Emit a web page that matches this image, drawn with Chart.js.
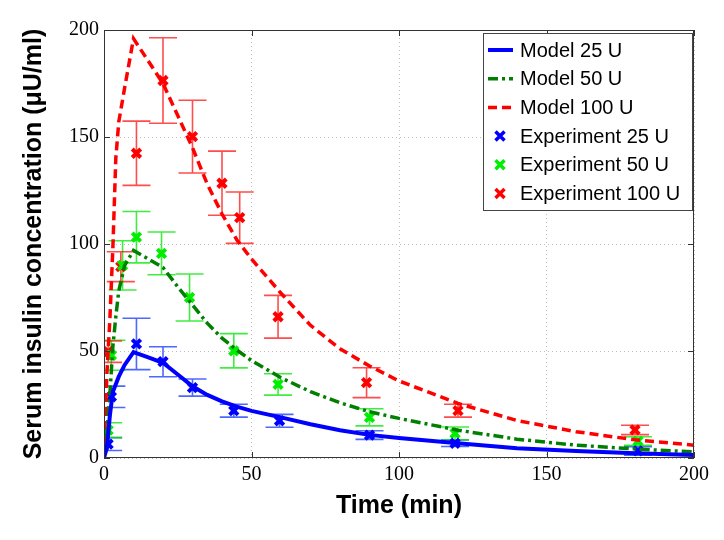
<!DOCTYPE html>
<html>
<head>
<meta charset="utf-8">
<script src="https://cdn.jsdelivr.net/npm/chart.js@4.4.1/dist/chart.umd.min.js"></script>
<style>
  html, body { margin: 0; padding: 0; background: #fff; }
  #wrap { width: 724px; height: 540px; }
</style>
</head>
<body>
<div id="wrap"><canvas id="insulinChart" width="724" height="540"></canvas></div>
<script>
// Model curves (min -> uU/ml)
const modelTime = [0, 1, 2, 3, 4, 5, 7, 10, 15, 20, 25, 30, 35, 40, 45, 50, 60, 70, 80, 90, 100, 120, 140, 160, 180, 200];
const model25  = [0, 5, 20, 31, 34.5, 38, 43.5, 49.5, 47, 44.5, 39, 33.5, 29.5, 26.5, 24, 22, 19, 15.8, 13, 10.8, 9.3, 6.9, 4.6, 3.3, 2.2, 1.4];
const model50  = [0, 12, 30, 52, 66, 78, 90, 97, 93, 89, 80, 71.5, 63, 56, 50.5, 45.5, 37.5, 31, 25.8, 21.6, 18.5, 13, 8.8, 6, 4.2, 2.9];
const model100 = [0, 40, 65, 98, 140, 157, 173, 196, 185.5, 175, 160, 145, 128, 114, 102, 93, 77, 62, 51, 43, 36, 25.5, 17.5, 12.3, 8.5, 6];

// Experimental data with error bars
const expTime25 = [1.4, 2.5, 11, 20, 30, 44, 59.5, 90, 119, 181];
const exp25     = [6.5, 28.6, 53.3, 45, 32.9, 22.1, 17.4, 10.7, 6.9, 3.3];
const err25     = [3, 5, 12, 7, 4, 3, 3, 2, 1.5, 2];

const expTime50 = [1.4, 2.5, 6.3, 11, 19.5, 29, 44, 59, 90, 119, 181];
const exp50     = [13, 48, 90, 103.2, 95.6, 75, 50.1, 34.4, 19, 11.5, 7.9];
const err50     = [3.5, 7, 11.5, 12, 10, 11, 8, 5, 4, 3, 2];

const expTime100 = [1.4, 5.7, 11, 20, 30, 40, 46, 59, 89, 120, 180];
const exp100     = [49.7, 89.4, 142.4, 176.4, 150.2, 128.4, 112.3, 66, 35.2, 22.1, 13.1];
const err100     = [5, 7, 15, 20, 17, 15, 12, 10, 7, 3, 2.2];

const xTicks = [0, 50, 100, 150, 200];
const yTicks = [0, 50, 100, 150, 200];

const toPoints = (xs, ys) => xs.map((x, i) => ({ x: x, y: ys[i] }));

const serif = "'Liberation Serif', 'Times New Roman', serif";
const sans = "'Liberation Sans', Arial, Helvetica, sans-serif";

// error bars under the markers
const errorBars = {
    id: 'errorBars',
    beforeDatasetsDraw(chart) {
        const { ctx, chartArea: a, scales: { x, y } } = chart;
        ctx.save();
        ctx.beginPath();
        ctx.rect(a.left, a.top, a.width, a.height);
        ctx.clip();
        chart.data.datasets.forEach(ds => {
            if (!ds.errors) return;
            ctx.strokeStyle = ds.errorColor;
            ctx.lineWidth = 1.6;
            ds.data.forEach((p, j) => {
                const e = ds.errors[j];
                const px = x.getPixelForValue(p.x);
                const top = y.getPixelForValue(p.y + e);
                const bot = y.getPixelForValue(p.y - e);
                const cap = 14;
                ctx.beginPath();
                ctx.moveTo(px, top); ctx.lineTo(px, bot);
                ctx.moveTo(px - cap, top); ctx.lineTo(px + cap, top);
                ctx.moveTo(px - cap, bot); ctx.lineTo(px + cap, bot);
                ctx.stroke();
            });
        });
        ctx.restore();
    }
};

// box around the axes and inward ticks (matlab style)
const axesFrame = {
    id: 'axesFrame',
    afterDatasetsDraw(chart) {
        const { ctx, chartArea: a, scales: { x, y } } = chart;
        ctx.save();
        ctx.strokeStyle = '#333';
        ctx.lineWidth = 1;
        ctx.strokeRect(a.left + 0.5, a.top + 0.5, a.width - 1, a.height - 1);
        ctx.beginPath();
        x.ticks.forEach(t => {
            const px = Math.round(x.getPixelForValue(t.value)) + 0.5;
            ctx.moveTo(px, a.bottom); ctx.lineTo(px, a.bottom - 6);
            ctx.moveTo(px, a.top); ctx.lineTo(px, a.top + 6);
        });
        y.ticks.forEach(t => {
            const py = Math.round(y.getPixelForValue(t.value)) + 0.5;
            ctx.moveTo(a.left, py); ctx.lineTo(a.left + 6, py);
            ctx.moveTo(a.right, py); ctx.lineTo(a.right - 6, py);
        });
        ctx.stroke();
        ctx.restore();
    }
};

// legend box in the top right corner
const boxLegend = {
    id: 'boxLegend',
    afterDraw(chart) {
        const { ctx, chartArea: a } = chart;
        const w = 209, h = 177;
        const left = a.right - w - 2, top = a.top + 3;
        ctx.save();
        ctx.fillStyle = '#fff';
        ctx.fillRect(left, top, w, h);
        ctx.strokeStyle = '#444';
        ctx.lineWidth = 1;
        ctx.strokeRect(left + 0.5, top + 0.5, w, h);
        ctx.font = '20px ' + sans;
        ctx.textBaseline = 'middle';
        chart.data.datasets.forEach((ds, i) => {
            const cy = top + 17 + i * 28.7;
            if (ds.showLine) {
                ctx.strokeStyle = ds.borderColor;
                ctx.lineWidth = ds.borderWidth;
                ctx.setLineDash(ds.borderDash || []);
                ctx.beginPath();
                ctx.moveTo(left + 5, cy);
                ctx.lineTo(left + 30, cy);
                ctx.stroke();
                ctx.setLineDash([]);
            } else {
                const cx = left + 17, r = 4.5;
                ctx.strokeStyle = ds.borderColor;
                ctx.lineWidth = 3.5;
                ctx.beginPath();
                ctx.moveTo(cx - r, cy - r); ctx.lineTo(cx + r, cy + r);
                ctx.moveTo(cx - r, cy + r); ctx.lineTo(cx + r, cy - r);
                ctx.stroke();
            }
            ctx.fillStyle = '#000';
            ctx.fillText(ds.label, left + 37, cy + 1);
        });
        ctx.restore();
    }
};

function modelSet(label, values, color, dash, width) {
    return {
        label: label,
        data: toPoints(modelTime, values),
        showLine: true,
        borderColor: color,
        backgroundColor: color,
        borderWidth: width,
        borderDash: dash,
        pointRadius: 0,
        tension: 0
    };
}

function expSet(label, times, values, errors, color, errorColor) {
    return {
        label: label,
        data: toPoints(times, values),
        showLine: false,
        pointStyle: 'crossRot',
        pointRadius: 6,
        pointBorderWidth: 4,
        borderColor: color,
        backgroundColor: color,
        errors: errors,
        errorColor: errorColor
    };
}

new Chart(document.getElementById('insulinChart'), {
    type: 'scatter',
    data: {
        datasets: [
            modelSet('Model 25 U', model25, '#0000ff', [], 4),
            modelSet('Model 50 U', model50, '#007f00', [10, 4, 3, 4], 3.5),
            modelSet('Model 100 U', model100, '#ff0000', [9, 5], 3.5),
            expSet('Experiment 25 U', expTime25, exp25, err25, '#0000ff', 'rgba(0,40,255,0.7)'),
            expSet('Experiment 50 U', expTime50, exp50, err50, '#00ee00', 'rgba(0,230,0,0.75)'),
            expSet('Experiment 100 U', expTime100, exp100, err100, '#ff0000', 'rgba(255,0,0,0.7)')
        ]
    },
    options: {
        responsive: false,
        animation: false,
        layout: { padding: { left: 0, top: 30, right: 30, bottom: 0 } },
        plugins: {
            legend: { display: false },
            tooltip: { enabled: false }
        },
        scales: {
            x: {
                type: 'linear',
                min: 0,
                max: 200,
                afterFit: s => { s.height = 82; },
                afterBuildTicks: s => { s.ticks = xTicks.map(v => ({ value: v })); },
                ticks: { font: { family: serif, size: 20 }, color: '#000', padding: 5, maxRotation: 0 },
                grid: { color: '#bdbdbd', lineWidth: 1, drawTicks: false },
                border: { display: false, dash: [1, 3] },
                title: {
                    display: true,
                    text: 'Time (min)',
                    color: '#000',
                    font: { family: sans, size: 25, weight: 'bold' },
                    padding: { top: 0, bottom: 19 }
                }
            },
            y: {
                type: 'linear',
                min: 0,
                max: 200,
                afterFit: s => { s.width = 104; },
                afterBuildTicks: s => { s.ticks = yTicks.map(v => ({ value: v })); },
                ticks: { font: { family: serif, size: 20 }, color: '#000', padding: 5 },
                grid: { color: '#bdbdbd', lineWidth: 1, drawTicks: false },
                border: { display: false, dash: [1, 3] },
                title: {
                    display: true,
                    text: 'Serum insulin concentration (\u03bcU/ml)',
                    color: '#000',
                    font: { family: sans, size: 25, weight: 'bold' },
                    padding: { top: 19, bottom: 0 }
                }
            }
        }
    },
    plugins: [
        { id: 'whiteBg', beforeDraw: c => { c.ctx.save(); c.ctx.fillStyle = '#fff'; c.ctx.fillRect(0, 0, c.width, c.height); c.ctx.restore(); } },
        errorBars, axesFrame, boxLegend
    ]
});
</script>
</body>
</html>
